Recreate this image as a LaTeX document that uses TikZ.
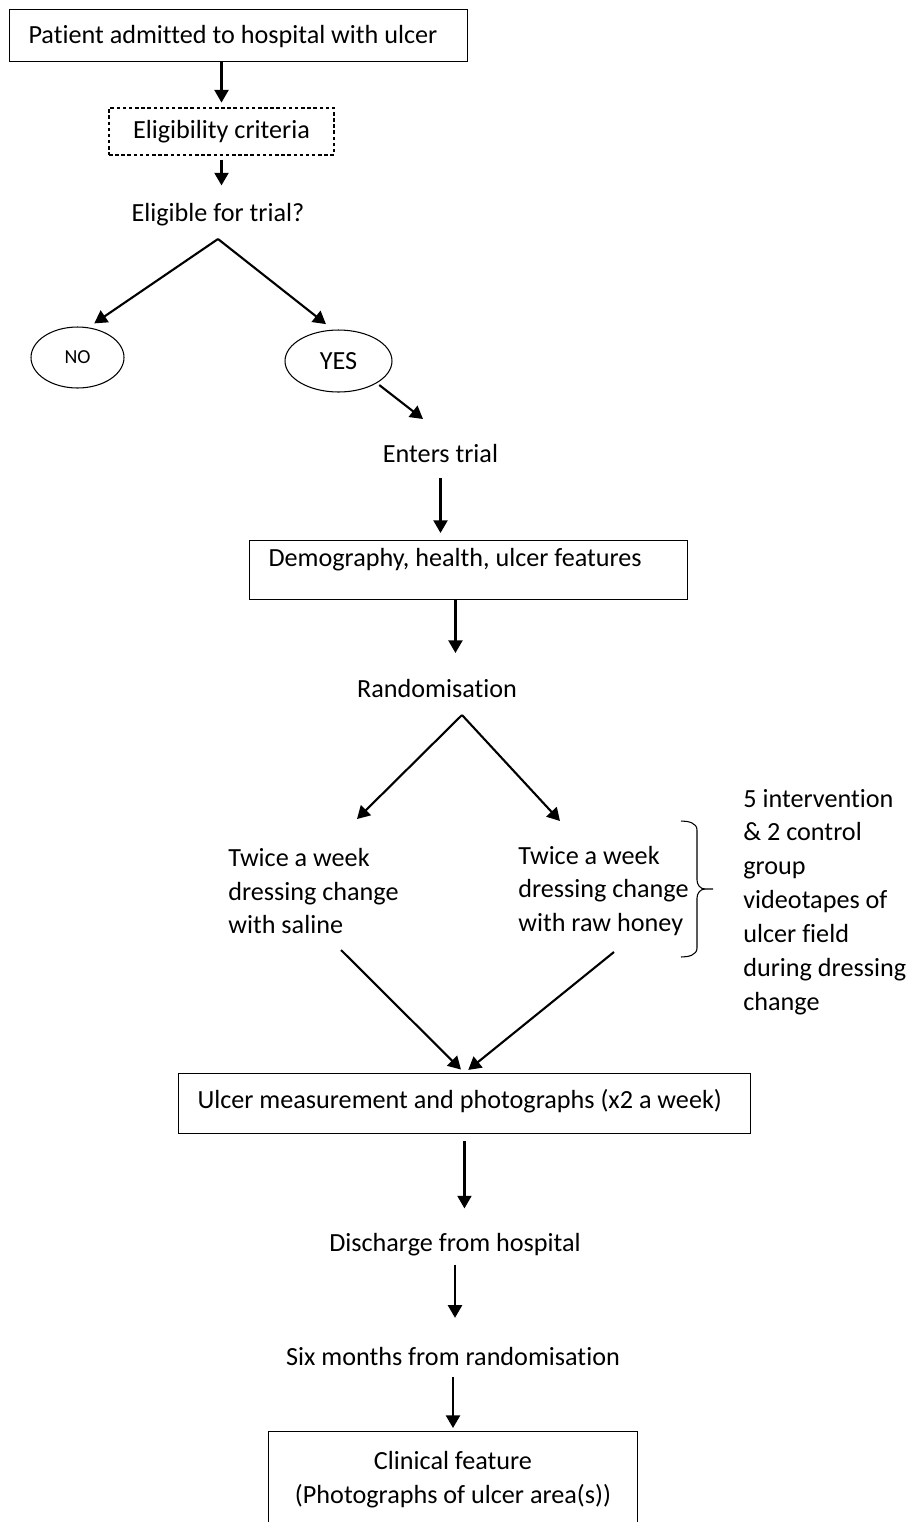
\documentclass[tikz,border=0pt]{standalone}
\usepackage{fontspec}
\setmainfont{Carlito}[Ligatures=CommonOff]
\usetikzlibrary{arrows.meta,shapes.geometric}

\tikzset{
  arr/.style={-{Triangle[length=7.2pt,width=8pt]},line width=1.2pt},
  flowbox/.style={draw,line width=0.6pt,rectangle,align=flush left,anchor=north west,
    inner xsep=10.8pt,inner ysep=0pt},
  txt/.style={inner sep=0pt,align=left},
  oval/.style={draw,ellipse,line width=0.6pt,inner sep=0pt},
}

\begin{document}
\begin{tikzpicture}[x=0.02cm,y=-0.02cm]
        \fontsize{14.9pt}{19.3pt}\selectfont
        \useasboundingbox (0,0) rectangle (914,1522);
        \clip (0,0) rectangle (914,1522);
        \fill[white] (0,0) rectangle (914,1522);

        % --- boxes and texts ---
        \node[flowbox,text width=8.4cm,text height=0.68cm,text depth=0.36cm] (patient) at (9,9)
          {\mbox{Patient admitted to hospital with ulcer}};
        \node[draw,dashed,dash pattern=on 2pt off 1.5pt,line width=0.6pt,
          minimum width=4.5cm,minimum height=0.94cm] (elig) at (221.5,131.5) {Eligibility criteria};
        \node[txt] (question) at (218,214.5) {Eligible for trial?};

        \node[oval,minimum width=1.86cm,minimum height=1.22cm,font=\fontsize{11.3pt}{13pt}\selectfont]
          (no) at (77.5,357.5) {NO};
        \node[oval,minimum width=2.14cm,minimum height=1.24cm] (yes) at (338.5,361) {YES};

        \node[txt] (enter) at (440.5,453.7) {Enters trial};
        \node[flowbox,text width=8cm,text height=0.52cm,text depth=0.66cm] (demo) at (249,540)
          {\mbox{Demography, health, ulcer features}};
        \node[txt] (rand) at (437,688) {Randomisation};

        \node[txt,anchor=west] (saline) at (228,891) {Twice a week\\dressing change\\with saline};
        \node[txt,anchor=west] (honey) at (518,891) {Twice a week\\dressing change\\with raw honey};
        \node[txt,anchor=west] (video) at (743,902)
          {5 intervention\\\& 2 control\\group\\videotapes of\\ulcer field\\during dressing\\change};

        \node[flowbox,text width=10.68cm,text height=0.7cm,text depth=0.5cm] (ulcer) at (178,1073)
          {\mbox{Ulcer measurement and photographs (x2 a week)}};
        \node[txt] (discharge) at (455,1244.5) {Discharge from hospital};
        \node[txt] (six) at (453,1356.7) {Six months from randomisation};
        \node[draw,line width=0.6pt,align=center,anchor=north,minimum width=7.4cm,minimum height=1.92cm]
          (clinical) at (453,1431) {Clinical feature\\(Photographs of ulcer area(s))};

        % --- brace ---
        \draw[line width=0.6pt] (681,821) to[out=0,in=90] (697,830) -- (697,880)
          to[out=-90,in=180] (705,889) -- (713,889);
        \draw[line width=0.6pt] (705,889) to[out=180,in=90] (697,898) -- (697,948)
          to[out=-90,in=0] (681,957);

        % --- free arrow ends ---
        \coordinate (split1) at (218,239);
        \coordinate (yestip) at (423,419);
        \coordinate (split2) at (462,715);
        \coordinate (saltip) at (357,819);
        \coordinate (hontip) at (560,821);
        \coordinate (salout) at (341,950);
        \coordinate (honout) at (614,952);

        % --- arrows ---
        \draw[arr,shorten >=2.8pt] (patient.south -| elig.north) -- (elig.north);
        \draw[arr,shorten <=2.3pt,shorten >=9.9pt] (elig.south) -- (elig.south |- question.north);
        \draw[arr,shorten >=4pt] (split1) -- (no.70);
        \draw[arr,shorten >=5.1pt] (split1) -- (yes.100);
        \draw[arr,shorten <=1.7pt] (yes.-30) -- (yestip);
        \draw[arr,shorten <=8.5pt,shorten >=4pt] (enter.south) -- (enter.south |- demo.north);
        \draw[arr,shorten >=14.5pt] ([xshift=-7.4pt]demo.south) -- ([xshift=-7.4pt]demo.south |- rand.north);
        \draw[arr] (split2) -- (saltip);
        \draw[arr] (split2) -- (hontip);
        \draw[arr,shorten >=2.8pt] (salout) -- (ulcer.north);
        \draw[arr,shorten >=2.8pt] (honout) -- (ulcer.north);
        \draw[arr,shorten <=4pt,shorten >=13.9pt] (ulcer.south) -- (ulcer.south |- discharge.north);
        \draw[arr,shorten <=4.8pt,shorten >=16.7pt] (discharge.south) -- (discharge.south |- six.north);
        \draw[arr,shorten <=6.3pt,shorten >=1.7pt] (six.south) -- (six.south |- clinical.north);
      \end{tikzpicture}
\end{document}
